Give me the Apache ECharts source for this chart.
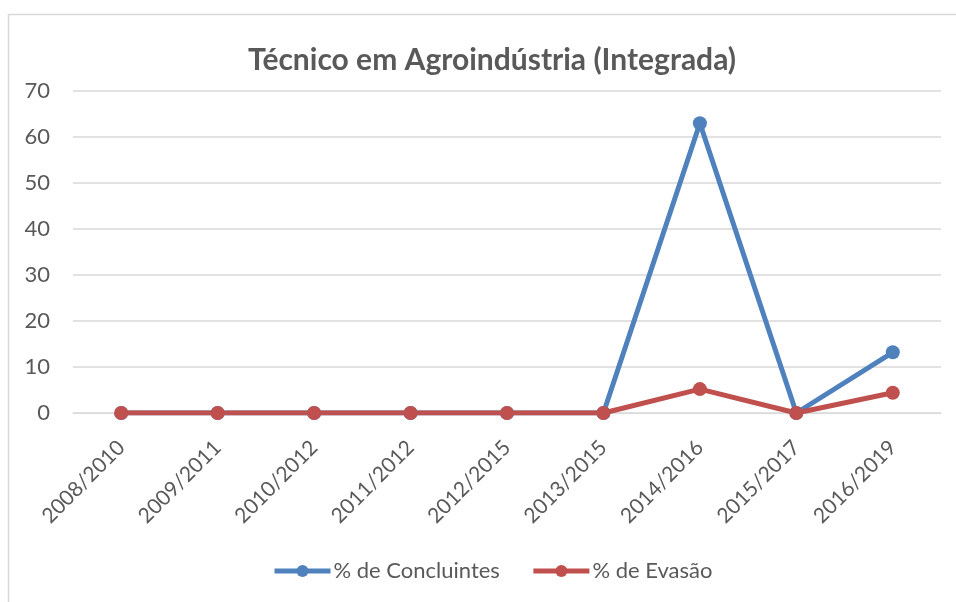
<!DOCTYPE html>
<html><head><meta charset="utf-8">
<script src="https://cdn.jsdelivr.net/npm/echarts@6/dist/echarts.min.js"></script>
<style>html,body{margin:0;padding:0;background:#fff}#c{width:956px;height:602px}</style>
</head><body><div id="c"></div>
<script>
const categories = ['2008/2010','2009/2011','2010/2012','2011/2012','2012/2015','2013/2015','2014/2016','2015/2017','2016/2019'];
const concluintes = [0,0,0,0,0,0,63,0,13.2];
const evasao = [0,0,0,0,0,0,5.2,0,4.4];
const yTicks = [0,10,20,30,40,50,60,70];
const FONT = 'Lato';
const BLUE = '#4F81BD', RED = '#C0504D';
const chart = echarts.init(document.getElementById('c'));
chart.setOption({
  animation:false,
  backgroundColor:'#fff',
  graphic:[{type:'rect',shape:{x:8.5,y:14.5,width:1000,height:1000},style:{fill:'none',stroke:'#D9D9D9',lineWidth:1.5},silent:true}],
  title:{text:'Técnico em Agroindústria (Integrada)',left:243,top:40,textStyle:{fontFamily:FONT,fontSize:30,fontWeight:'bold',color:'#595959'}},
  grid:{left:73,right:15,top:91,bottom:189,containLabel:false},
  legend:{bottom:15,left:267,itemWidth:56,itemHeight:15,itemGap:31,textStyle:{fontFamily:FONT,fontSize:22,color:'#595959',padding:[0,0,0,-2]},
    data:[{name:'% de Concluintes',lineStyle:{width:5,color:BLUE}},{name:'% de Evasão',lineStyle:{width:5,color:RED}}]},
  xAxis:{type:'category',data:categories,boundaryGap:true,axisLine:{show:true,lineStyle:{color:'#D9D9D9'}},axisTick:{show:false},axisLabel:{rotate:45,interval:0,margin:31,fontFamily:FONT,fontSize:21,color:'#595959'}},
  yAxis:{type:'value',min:0,max:70,interval:10,axisLine:{show:false},axisTick:{show:false},splitLine:{lineStyle:{color:'#D9D9D9',width:1.5}},axisLabel:{margin:23,fontFamily:FONT,fontSize:22,color:'#595959',formatter:v=>yTicks.includes(v)?String(v):''}},
  series:[
    {name:'% de Concluintes',type:'line',data:concluintes,symbol:'circle',symbolSize:14,lineStyle:{width:5,color:BLUE},itemStyle:{color:BLUE}},
    {name:'% de Evasão',type:'line',data:evasao,symbol:'circle',symbolSize:14,lineStyle:{width:5,color:RED},itemStyle:{color:RED}}
  ]
});
</script></body></html>
